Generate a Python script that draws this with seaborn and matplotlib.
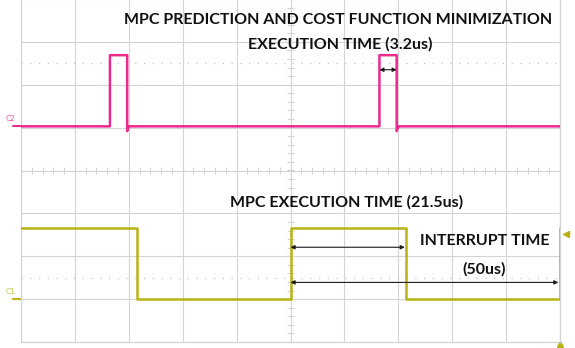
import matplotlib
matplotlib.use("Agg")
import matplotlib.pyplot as plt
import numpy as np
import pandas as pd
import seaborn as sns

# Time axis in microseconds (10 us/div), vertical axis in screen divisions
c2_time = [-50, -33.5, -33.5, -30.3, -30.3, -30.0, 16.5, 16.5, 19.7, 19.7, 20.0, 50]
c2_level = [1.03, 1.03, 2.69, 2.69, 0.92, 1.03, 1.03, 2.69, 2.69, 0.92, 1.03, 1.03]

c1_time = [-50, -28.5, -28.5, 0, 0, 21.5, 21.5, 50, 50]
c1_level = [-1.35, -1.35, -3.0, -3.0, -1.35, -1.35, -3.0, -3.0, -1.35]

# Measurement cursors (us)
mpc_span = [0, 21.5]
period_span = [0, 50]
opt_span = [16.5, 19.7]

title_top = ["MPC PREDICTION AND COST FUNCTION MINIMIZATION", "EXECUTION TIME (3.2us)"]
title_mpc = "MPC EXECUTION TIME (21.5us)"
title_irq = ["INTERRUPT TIME", "(50us)"]

MAGENTA = "#ec2a8e"
YELLOW = "#b9b214"
GRID = "#d4d4d4"

sns.set_theme(style="white")
plt.rcParams["font.family"] = ["Lato", "DejaVu Sans"]

fig = plt.figure(figsize=(5.75, 3.48), dpi=100)
ax = fig.add_axes([21 / 575, 6 / 348, 539 / 575, 343 / 348])
ax.set_xlim(-50, 50)
ax.set_ylim(-4, 4)

# graticule
for x in np.arange(-50, 51, 10):
    ax.axvline(x, color=GRID, lw=0.8, zorder=0)
for y in np.arange(-4, 5, 1):
    ax.axhline(y, color=GRID, lw=0.8, zorder=0)
tx = np.arange(-50, 50.1, 2)
ax.vlines(tx, -0.09, 0.09, color=GRID, lw=0.8, zorder=0)
ty = np.arange(-4, 4.01, 0.2)
ax.hlines(ty, -0.7, 0.7, color=GRID, lw=0.8, zorder=0)
# dotted reference levels
for y in (2.5, -2.5):
    ax.axhline(y, color="#c4c4c4", lw=0.9, ls=(0, (1, 6)), zorder=0)

for s in ax.spines.values():
    s.set_color(GRID)
    s.set_linewidth(0.9)
ax.spines["top"].set_visible(False)
ax.set_xticks([])
ax.set_yticks([])

df2 = pd.DataFrame({"t": c2_time, "v": c2_level})
df1 = pd.DataFrame({"t": c1_time, "v": c1_level})
sns.lineplot(data=df2, x="t", y="v", sort=False, estimator=None, color=MAGENTA,
             lw=1.8, ax=ax, zorder=3)
sns.lineplot(data=df1, x="t", y="v", sort=False, estimator=None, color=YELLOW,
             lw=1.8, ax=ax, zorder=3)
ax.set_xlabel("")
ax.set_ylabel("")

# channel markers
ax.plot([-51.5, -50], [c2_level[0]] * 2, color=MAGENTA, lw=1.5, clip_on=False)
ax.text(-52.8, c2_level[0] + 0.1, "C2", color=MAGENTA, fontsize=5.5,
        ha="left", va="bottom", clip_on=False, alpha=0.8)
ax.plot([-51.5, -50], [-3.0] * 2, color=YELLOW, lw=1.5, clip_on=False)
ax.text(-52.8, -3.0 + 0.1, "C1", color=YELLOW, fontsize=5.5,
        ha="left", va="bottom", clip_on=False, alpha=0.8)
ax.plot([51.2], [-1.49], marker="<", color=YELLOW, ms=4, clip_on=False)
ax.plot([50], [-4.05], marker="^", color=YELLOW, ms=5, clip_on=False)

# cursors
arrow = dict(arrowstyle="<|-|>", color="#1a1a1a", lw=0.8, mutation_scale=6,
             shrinkA=0, shrinkB=0)
ax.annotate("", xy=(mpc_span[0], -1.79), xytext=(mpc_span[1] - 0.3, -1.79), arrowprops=arrow)
ax.annotate("", xy=(period_span[0], -2.61), xytext=(period_span[1] - 0.3, -2.61), arrowprops=arrow)
ax.annotate("", xy=(opt_span[0], 2.35), xytext=(opt_span[1], 2.35), arrowprops=arrow)

tkw = dict(color="#111111", fontsize=11.5, fontweight="bold", ha="center", va="center")
ax.text(8.9, 3.5, title_top[0], **tkw)
ax.text(9.3, 2.95, title_top[1], **tkw)
ax.text(10.4, -0.75, title_mpc, **tkw)
ax.text(36.1, -1.65, title_irq[0], **tkw)
ax.text(35.9, -2.31, title_irq[1], **tkw)

fig.savefig("out.png", dpi=100)
